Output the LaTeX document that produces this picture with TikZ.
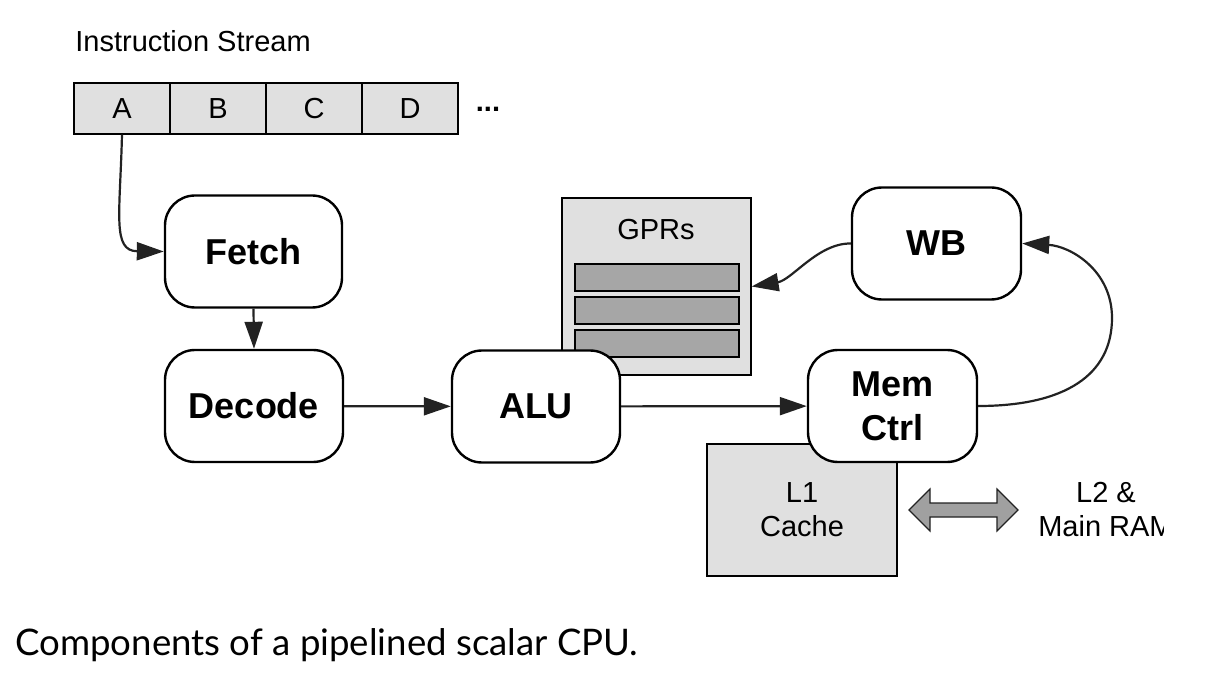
\documentclass[tikz,border=0pt]{standalone}
\usepackage{fontspec}
\setmainfont{Liberation Sans}
\newfontfamily\capfont{Lato}
\usepackage{xcolor}
\usepackage{tikz}
\usetikzlibrary{arrows.meta}

\definecolor{cellgray}{HTML}{E0E0E0}
\definecolor{bargray}{HTML}{A6A6A6}
\definecolor{busgray}{HTML}{A0A0A0}
\definecolor{linedark}{HTML}{222222}

\begin{document}
\begin{tikzpicture}[x=0.5pt, y=-0.5pt,
        stage/.style={rectangle, rounded corners=15pt, draw, line width=1.2pt, fill=white, align=center,
            minimum height=56pt, font=\fontsize{18}{22}\selectfont\bfseries},
        cell/.style={rectangle, draw, line width=0.6pt, fill=cellgray, minimum width=48pt, minimum height=25.5pt,
            font=\fontsize{14.5}{16}\selectfont},
        panel/.style={rectangle, draw, line width=0.6pt, fill=cellgray},
        reg/.style={rectangle, draw, line width=0.6pt, fill=bargray, minimum width=82pt, minimum height=13.5pt},
        plain/.style={inner sep=0pt, align=center, font=\fontsize{14.5}{17}\selectfont},
        flow/.style={draw=linedark, line width=1.1pt, -{Triangle[length=13.5pt, width=9pt]}}
    ]
            \useasboundingbox (0,0) rectangle (1211,679);

            % Nodes
            \node[plain, anchor=base west] (title) at (75,52) {Instruction Stream};
            \node[cell] (cA) at (122,108.5) {A};
            \node[cell] (cB) at (218,108.5) {B};
            \node[cell] (cC) at (314,108.5) {C};
            \node[cell] (cD) at (410,108.5) {D};
            \node[plain, font=\fontsize{14.5}{16}\selectfont\bfseries] (more) at (488,109) {...};

            \node[panel, minimum width=94.5pt, minimum height=88.5pt] (gprs) at (656.5,286.5) {};
            \node[plain] (gprlabel) at (656,230) {GPRs};
            \node[reg] (r1) at (657,277.5) {};
            \node[reg] (r2) at (657,310.5) {};
            \node[reg] (r3) at (657,343.5) {};

            \node[panel, minimum width=95pt, minimum height=66pt, align=center, font=\fontsize{14.5}{17}\selectfont] (l1) at (802,510) {L1\\Cache};

            \node[stage, minimum width=88.5pt] (fetch) at (253.5,251.5) {Fetch};
            \node[stage, minimum width=89pt] (decode) at (254,406) {Decode};
            \node[stage, minimum width=84pt] (alu) at (536,406.5) {ALU};
            \node[stage, minimum width=84.5pt] (mem) at (892.5,406) {Mem\\Ctrl};
            \node[stage, minimum width=84.5pt] (wb) at (936.5,243.5) {WB};

            \begin{scope}
                \clip (1020,460) rectangle (1163,560);
                \node[plain] (ram) at (1106,510) {L2 \&\\Main RAM};
            \end{scope}

            \node[anchor=base west, inner sep=0pt, font=\capfont\fontsize{18.3}{22}\selectfont] (caption) at (15,655) {Components of a pipelined scalar CPU.};

            % Edges
            \draw[flow] (cA.south) .. controls (120,215) and (112,251) .. (fetch.west);
            \draw[flow] (fetch.south) -- (decode.north);
            \draw[flow] (decode) -- (alu);
            \draw[flow] (alu) -- (mem);
            \draw[flow] (mem.east) .. controls (1065,406) and (1112,375) .. (1112,318)
                .. controls (1112,270) and (1070,246) .. (wb.east);
            \draw[flow] (wb.west) .. controls (818,243) and (792,280) .. (gprs.east);

            % Memory bus
            \draw[draw=linedark, line width=0.6pt, fill=busgray] (909,510) -- (930,489) -- (930,503) -- (997,503) -- (997,489)
                -- (1018,510) -- (997,531) -- (997,517) -- (930,517) -- (930,531) -- cycle;
        \end{tikzpicture}
\end{document}
